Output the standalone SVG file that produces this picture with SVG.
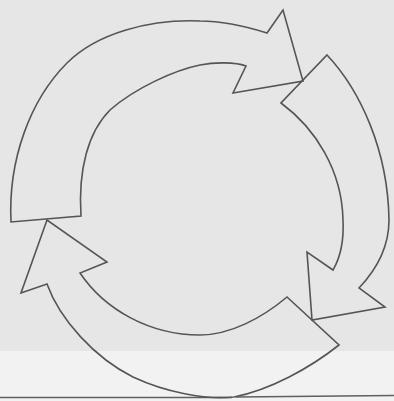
<svg xmlns="http://www.w3.org/2000/svg" width="394" height="401" viewBox="0 0 394 401">
  <style>
    .arrow { fill: none; stroke: #555555; stroke-width: 1.6; stroke-linejoin: miter; stroke-linecap: round; }
    .rule { fill: none; stroke: #606060; stroke-width: 1.4; }
  </style>
  <rect x="0" y="0" width="394" height="351" fill="#e6e6e6"/>
  <rect x="0" y="351" width="394" height="50" fill="#f2f2f2"/>
  <g id="bottom-rule">
    <path class="rule" d="M0,397.5 L232,397.5 M236,397 L394,395.5"/>
  </g>
  <g id="arrow-top">
    <path class="arrow" d="M11,222 C8,160 30,100 67,63 C97,33 150,19 200,21 C225,21 248,27 267,33 L283,10 L303,81 L233,93 L246,66 C235,62 215,62 200,65 C175,70 135,88 110,110 C88,132 78,170 81,216 Z"/>
  </g>
  <g id="arrow-right">
    <path class="arrow" d="M327,55 C360,90 388,150 389,220 C389,245 378,268 359,288 L385,307 L312,320 L307,252 L333,270 C340,258 344,240 343,220 C342,170 315,128 281,103 Z"/>
  </g>
  <g id="arrow-bottom">
    <path class="arrow" d="M339,345 C310,368 270,390 234,397 C205,400 165,392 133,377 C95,358 60,320 47,284 L21,293 L47,220 L107,262 L80,273 C105,310 150,335 200,335 C230,335 262,318 287,297 Z"/>
  </g>
</svg>
